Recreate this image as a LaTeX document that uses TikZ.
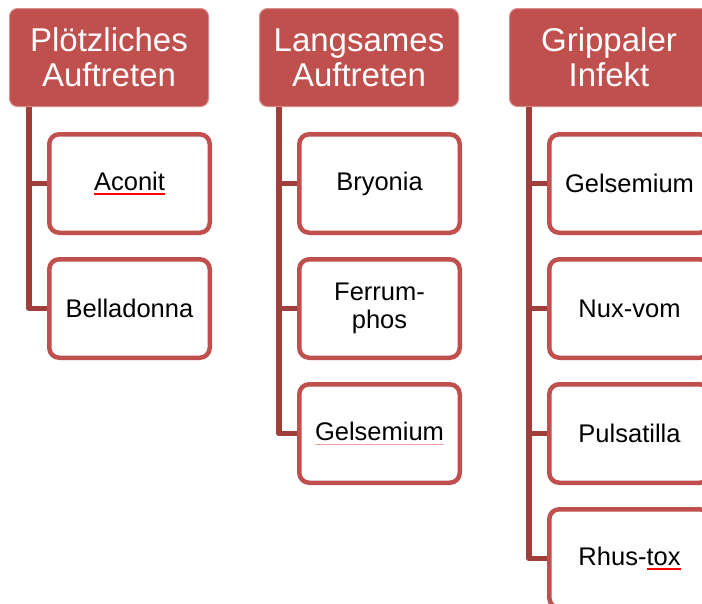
\documentclass[tikz,border=0pt]{standalone}
\usepackage{fontspec}
\setmainfont{Liberation Sans}
\usetikzlibrary{positioning}
\definecolor{hdred}{RGB}{192,80,77}
\definecolor{lnred}{RGB}{160,62,60}
\definecolor{spellred}{RGB}{255,0,0}
\definecolor{spellpink}{RGB}{245,165,165}
\newsavebox\spellbox
\newcommand\spellul[1]{\sbox\spellbox{#1}\rlap{\textcolor{spellred}{\rule[-5pt]{\wd\spellbox}{2pt}}}\usebox\spellbox}
\newcommand\spellfaint[1]{\sbox\spellbox{#1}\rlap{\textcolor{spellpink}{\rule[-4pt]{\wd\spellbox}{1pt}}}\usebox\spellbox}
\tikzset{node distance=125pt,
  head/.style={fill=hdred, draw=hdred!65!white, line width=1pt, rounded corners=8pt,
    text=white, align=center, minimum width=199pt, minimum height=98pt,
    font=\fontsize{33}{35}\selectfont},
  leaf/.style={draw=hdred, fill=white, line width=4.5pt, rounded corners=10pt,
    align=center, minimum width=160.5pt, minimum height=98.5pt, inner sep=0pt,
    font=\fontsize{25.5}{28}\selectfont},
  conn/.style={draw=lnred, line width=5.5pt, line join=round}}

\begin{document}
\begin{tikzpicture}[x=1pt, y=-1pt]

  \useasboundingbox (0,0) rectangle (702,603);
  \clip (0,0) rectangle (702,603);

  % headers
  \node[head] (Hsudden) at (109,57.5) {Plötzliches\\Auftreten};
  \node[head] (Hslow) [right of=Hsudden, node distance=250pt] {Langsames\\Auftreten};
  \node[head] (Hflu) [right of=Hslow, node distance=250pt] {Grippaler\\Infekt};

  % first column
  \node[leaf] (Aconit) at (129.5,183.5) {\spellul{Aconit}};
  \node[leaf] (Bella) [below of=Aconit] {Belladonna};

  % second column
  \node[leaf] (Bryo) at (379.5,183.5) {Bryonia};
  \node[leaf] (Ferrum) [below of=Bryo] {Ferrum-\\phos};
  \node[leaf] (GelsA) [below of=Ferrum] {\spellfaint{Gelsemium}};

  % third column
  \node[leaf] (GelsB) at (629.5,183.5) {Gelsemium};
  \node[leaf] (Nux) [below of=GelsB] {Nux-vom};
  \node[leaf] (Puls) [below of=Nux] {Pulsatilla};
  \node[leaf] (Rhus) [below of=Puls] {Rhus-\spellul{tox}};

  \draw[conn] (Hsudden.south west) ++(20,0) coordinate (t1) |- (Aconit.west);
  \draw[conn] (t1) |- (Bella.west);

  \draw[conn] (Hslow.south west) ++(20,0) coordinate (t2) |- (Bryo.west);
  \draw[conn] (t2) |- (Ferrum.west);
  \draw[conn] (t2) |- (GelsA.west);

  \draw[conn] (Hflu.south west) ++(20,0) coordinate (t3) |- (GelsB.west);
  \draw[conn] (t3) |- (Nux.west);
  \draw[conn] (t3) |- (Puls.west);
  \draw[conn] (t3) |- (Rhus.west);

\end{tikzpicture}
\end{document}
